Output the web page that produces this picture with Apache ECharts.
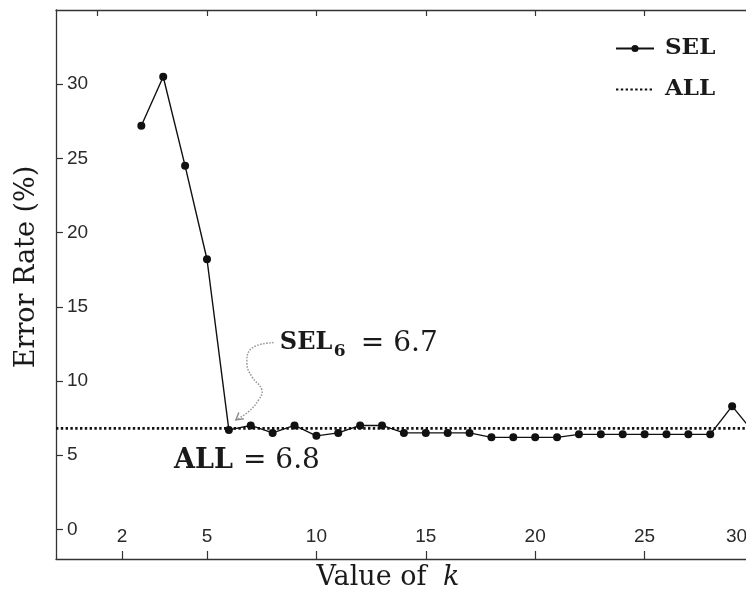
<!DOCTYPE html>
<html>
<head>
<meta charset="utf-8">
<script src="https://cdn.jsdelivr.net/npm/echarts@6/dist/echarts.min.js"></script>
<style>
  html, body { margin: 0; padding: 0; overflow: hidden; background: #fff; }
  #chart { width: 770px; height: 599px; }
</style>
</head>
<body>
<div id="chart"></div>
<script>
// Error rate of the selected-feature model (SEL) for each k, against the full model (ALL)
const kValues = [2, 3, 4, 5, 6, 7, 8, 9, 10, 11, 12, 13, 14, 15, 16, 17, 18, 19, 20, 21, 22, 23, 24, 25, 26, 27, 28, 29, 30];
const selErrors = [27.2, 30.5, 24.5, 18.2, 6.7, 7.0, 6.5, 7.0, 6.3, 6.5, 7.0, 7.0, 6.5, 6.5, 6.5, 6.5, 6.2, 6.2, 6.2, 6.2, 6.4, 6.4, 6.4, 6.4, 6.4, 6.4, 6.4, 8.3, 6.5];
const allError = 6.8;
const bestK = 6;

// Axis extents and tick marks
const xMin = -1.9, xMax = 30;
const yMin = -2, yMax = 35;
const xTickValues = [1.12, 5, 10, 15, 20, 25, 30];
const xLabelValues = [1.12, 5, 10, 15, 20, 25, 29.2];
const xLabelTexts = ['2', '5', '10', '15', '20', '25', '30'];
const xTopTicks = [0, 5, 10, 15, 20, 25, 30];
const yTickValues = [0, 5, 10, 15, 20, 25, 30];

const bestValue = selErrors[kValues.indexOf(bestK)];

const INK = '#1a1a1a';
const FRAME = '#333';
const SERIF = '"DejaVu Serif", "Liberation Serif", serif';
const TICK_FONT = '"Liberation Sans", Arial, sans-serif';

function labelFor(v) {
  let best = 0;
  for (let i = 1; i < xLabelValues.length; i++) {
    if (Math.abs(xLabelValues[i] - v) < Math.abs(xLabelValues[best] - v)) best = i;
  }
  return xLabelTexts[best];
}

const frameLine = { show: true, onZero: false, lineStyle: { color: FRAME, width: 1.3 } };
const tickLine = { color: FRAME, width: 1.2 };

const chart = echarts.init(document.getElementById('chart'), null, { renderer: 'canvas' });

chart.setOption({
  animation: false,
  backgroundColor: '#fff',
  grid: { left: 56, top: 10, right: 16, bottom: 40, containLabel: false },
  legend: {
    orient: 'vertical',
    left: 610,
    top: 30,
    itemWidth: 38,
    itemHeight: 9,
    itemGap: 14,
    align: 'left',
    textStyle: {
      fontFamily: SERIF, fontWeight: 'bold', fontSize: 23, color: INK,
      lineHeight: 27, padding: [0, 0, 0, 6]
    },
    data: ['SEL', 'ALL']
  },
  xAxis: [
    {
      type: 'value', position: 'bottom', min: xMin, max: xMax,
      axisLine: frameLine,
      axisTick: { show: true, inside: true, length: 8, customValues: xTickValues, lineStyle: tickLine },
      axisLabel: {
        show: true, inside: true, margin: 13, customValues: xLabelValues,
        formatter: labelFor, fontFamily: TICK_FONT, fontSize: 19, color: '#2a2a2a'
      },
      splitLine: { show: false }
    },
    {
      type: 'value', position: 'top', min: xMin, max: xMax,
      axisLine: frameLine,
      axisTick: { show: true, inside: true, length: 6, customValues: xTopTicks, lineStyle: tickLine },
      axisLabel: { show: false },
      splitLine: { show: false }
    }
  ],
  yAxis: [
    {
      type: 'value', position: 'left', min: yMin, max: yMax,
      axisLine: frameLine,
      axisTick: { show: true, inside: true, length: 7, customValues: yTickValues, lineStyle: tickLine },
      axisLabel: {
        show: true, inside: true, margin: 11, customValues: yTickValues,
        fontFamily: TICK_FONT, fontSize: 19, color: '#2a2a2a'
      },
      splitLine: { show: false }
    },
    {
      type: 'value', position: 'right', min: yMin, max: yMax,
      axisLine: frameLine,
      axisTick: { show: true, inside: true, length: 7, customValues: yTickValues, lineStyle: tickLine },
      axisLabel: { show: false },
      splitLine: { show: false }
    }
  ],
  series: [
    {
      name: 'ALL',
      type: 'line',
      xAxisIndex: 0, yAxisIndex: 0,
      data: [[xMin, allError], [xMax, allError]],
      symbol: 'none',
      lineStyle: { color: '#111', width: 2.8, type: [2.4, 2.4] },
      // transparent so the legend swatch shows only the dotted line
      itemStyle: { color: 'rgba(0,0,0,0)' },
      z: 2
    },
    {
      name: 'SEL',
      type: 'line',
      xAxisIndex: 0, yAxisIndex: 0,
      data: kValues.map((k, i) => [k, selErrors[i]]),
      symbol: 'circle',
      symbolSize: 8,
      lineStyle: { color: '#111', width: 1.4 },
      itemStyle: { color: '#111' },
      z: 3
    }
  ]
});

// Annotations placed from the data coordinates of the best k and the ALL level
const pBest = chart.convertToPixel({ xAxisIndex: 0, yAxisIndex: 0 }, [bestK, bestValue]);
const pAll = chart.convertToPixel({ xAxisIndex: 0, yAxisIndex: 0 }, [xMin, allError]);
const tip = [pBest[0] + 7, pBest[1] - 10];
const curve = [
  [37.7, -77.3], [16, -71.7], [11, -57], [16, -43.3], [26, -30], [22.7, -20], [12.7, -8.3], [0, 0]
].map(d => [tip[0] + d[0], tip[1] + d[1]]);

chart.setOption({
  graphic: [
    {
      type: 'text',
      x: 27, y: 267,
      rotation: Math.PI / 2,
      style: {
        text: 'Error Rate (%)', font: '27px ' + SERIF, fill: INK,
        align: 'center', verticalAlign: 'middle'
      }
    },
    {
      type: 'text',
      x: 388, y: 578,
      style: {
        text: '{n|Value of }{i|k}',
        align: 'center', verticalAlign: 'middle',
        rich: {
          n: { fontFamily: SERIF, fontSize: 27, fill: INK, color: INK },
          i: { fontFamily: SERIF, fontSize: 27, fontStyle: 'italic', fill: INK, color: INK, padding: [0, 0, 0, 8] }
        }
      }
    },
    {
      type: 'polyline',
      shape: { points: curve, smooth: 0.45 },
      style: { stroke: '#999', lineWidth: 1.5, lineDash: [1.6, 1.4], fill: null },
      z: 10
    },
    {
      type: 'polyline',
      shape: { points: [[tip[0] + 8, tip[1] - 1.2], tip, [tip[0] + 3, tip[1] - 7.5]] },
      style: { stroke: '#8a8a8a', lineWidth: 1.4, fill: null },
      z: 10
    },
    {
      type: 'text',
      x: pBest[0] + 51, y: pBest[1] - 87,
      style: { text: 'SEL', font: 'bold 24px ' + SERIF, fill: INK, align: 'left', verticalAlign: 'middle' },
      z: 10
    },
    {
      type: 'text',
      x: pBest[0] + 105, y: pBest[1] - 78,
      style: { text: '6', font: 'bold 17px ' + SERIF, fill: INK, align: 'left', verticalAlign: 'middle' },
      z: 10
    },
    {
      type: 'text',
      x: pBest[0] + 132, y: pBest[1] - 86,
      style: { text: '= 6.7', font: '28px ' + SERIF, fill: INK, align: 'left', verticalAlign: 'middle' },
      z: 10
    },
    {
      type: 'text',
      x: 174, y: pAll[1] + 33,
      style: { text: 'ALL', font: 'bold 27px ' + SERIF, fill: INK, align: 'left', verticalAlign: 'middle' },
      z: 10
    },
    {
      type: 'text',
      x: 243, y: pAll[1] + 32,
      style: { text: '= 6.8', font: '28px ' + SERIF, fill: INK, align: 'left', verticalAlign: 'middle' },
      z: 10
    }
  ]
});
</script>
</body>
</html>
